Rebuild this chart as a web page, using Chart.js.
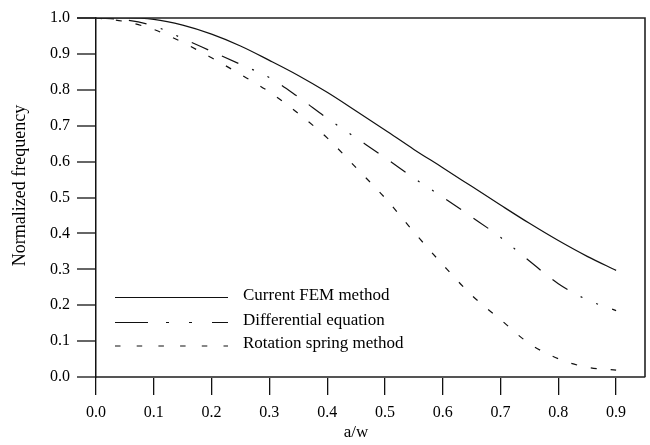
<!DOCTYPE html>
<html><head><meta charset="utf-8">
<script src="https://cdn.jsdelivr.net/npm/chart.js@4"></script>
<style>html,body{margin:0;padding:0;background:#fff}#wrap{width:650px;height:445px}</style>
</head><body><div id="wrap"><canvas id="c" width="650" height="445"></canvas></div>
<script>
const aw = [0, 0.05, 0.1, 0.15, 0.2, 0.25, 0.3, 0.35, 0.4, 0.45, 0.5, 0.55, 0.6, 0.65, 0.7, 0.75, 0.8, 0.85, 0.9];
const femValues = [1.0, 1.0, 0.996, 0.98, 0.955, 0.922, 0.882, 0.84, 0.793, 0.741, 0.688, 0.634, 0.583, 0.531, 0.479, 0.428, 0.38, 0.336, 0.297];
const diffValues = [1.0, 0.995, 0.978, 0.943, 0.907, 0.871, 0.834, 0.78, 0.721, 0.666, 0.611, 0.554, 0.501, 0.446, 0.389, 0.323, 0.26, 0.215, 0.185];
const springValues = [1.0, 0.99, 0.968, 0.932, 0.889, 0.843, 0.794, 0.734, 0.666, 0.583, 0.499, 0.404, 0.313, 0.228, 0.16, 0.093, 0.051, 0.027, 0.019];
const xTicks = [0, 0.1, 0.2, 0.3, 0.4, 0.5, 0.6, 0.7, 0.8, 0.9];
const yTicks = [0, 0.1, 0.2, 0.3, 0.4, 0.5, 0.6, 0.7, 0.8, 0.9, 1.0];
const seriesNames = ['Current FEM method', 'Differential equation', 'Rotation spring method'];
const xTitle = 'a/w';
const yTitle = 'Normalized frequency';

const SERIF = '"Liberation Serif", "Times New Roman", serif';
const pts = vals => aw.map((x, i) => ({x: x, y: vals[i]}));

const legendStyles = [
  {dash: []},
  {dash: [33, 18, 3, 20, 3, 20, 16]},
  {dash: [5.5, 16.2]}
];

const extras = {
  id: 'extras',
  afterDraw(chart) {
    const {ctx, chartArea: a, scales: {x}} = chart;
    ctx.save();
    // top and right frame
    ctx.strokeStyle = '#222';
    ctx.lineWidth = 1.6;
    ctx.setLineDash([]);
    ctx.beginPath();
    ctx.moveTo(a.left - 19, a.top);
    ctx.lineTo(a.right, a.top);
    ctx.lineTo(a.right, a.bottom);
    ctx.stroke();
    // axis titles
    ctx.fillStyle = '#000';
    ctx.font = '17px ' + SERIF;
    ctx.textAlign = 'center';
    ctx.textBaseline = 'middle';
    ctx.fillText(xTitle, x.getPixelForValue(0.45), chart.height - 12);
    ctx.save();
    ctx.translate(20, (a.top + a.bottom) / 2 - 12);
    ctx.rotate(-Math.PI / 2);
    ctx.font = '18px ' + SERIF;
    ctx.fillText(yTitle, 0, 0);
    ctx.restore();
    // legend
    const rows = [a.bottom - 79.5, a.bottom - 54.5, a.bottom - 31];
    ctx.textAlign = 'left';
    ctx.textBaseline = 'alphabetic';
    seriesNames.forEach((name, i) => {
      const y = rows[i];
      ctx.strokeStyle = '#111';
      ctx.lineWidth = 1.2;
      ctx.setLineDash(legendStyles[i].dash);
      ctx.beginPath();
      ctx.moveTo(a.left + 19, y);
      ctx.lineTo(a.left + 132, y);
      ctx.stroke();
      ctx.setLineDash([]);
      ctx.fillStyle = '#000';
      ctx.font = '17px ' + SERIF;
      ctx.fillText(name, a.left + 147, y + 2);
    });
    ctx.restore();
  }
};

new Chart(document.getElementById('c'), {
  type: 'scatter',
  data: {
    datasets: [
      {label: seriesNames[0], data: pts(femValues), showLine: true, borderColor: '#111', borderWidth: 1.2, pointRadius: 0, cubicInterpolationMode: 'monotone'},
      {label: seriesNames[1], data: pts(diffValues), showLine: true, borderColor: '#111', borderWidth: 1.2, pointRadius: 0, borderDash: [18, 15, 18, 15, 2, 15, 2, 15], cubicInterpolationMode: 'monotone'},
      {label: seriesNames[2], data: pts(springValues), showLine: true, borderColor: '#111', borderWidth: 1.2, pointRadius: 0, borderDash: [6, 14], cubicInterpolationMode: 'monotone'}
    ]
  },
  options: {
    responsive: false,
    animation: false,
    devicePixelRatio: 1,
    layout: {padding: {top: 18, right: 5, left: 0, bottom: 0}},
    plugins: {legend: {display: false}, tooltip: {enabled: false}},
    scales: {
      x: {
        type: 'linear', min: 0, max: 0.95,
        afterBuildTicks: s => { s.ticks = xTicks.map(v => ({value: v})); },
        afterFit: s => { s.height = 68; },
        ticks: {font: {family: SERIF, size: 16}, color: '#000', padding: 8, maxRotation: 0, callback: v => Number(v).toFixed(1)},
        grid: {drawOnChartArea: false, drawTicks: true, tickLength: 18, color: '#111', lineWidth: 1.3},
        border: {display: true, color: '#555', width: 2}
      },
      y: {
        type: 'linear', min: 0, max: 1,
        afterBuildTicks: s => { s.ticks = yTicks.map(v => ({value: v})); },
        afterFit: s => { s.width = 96; },
        ticks: {font: {family: SERIF, size: 16}, color: '#000', padding: 7, callback: v => Number(v).toFixed(1)},
        grid: {drawOnChartArea: false, drawTicks: true, tickLength: 19, color: '#666', lineWidth: 2},
        border: {display: true, color: '#111', width: 1.5},
        title: {display: false, text: yTitle}
      }
    }
  },
  plugins: [extras]
});
</script>
</body></html>
